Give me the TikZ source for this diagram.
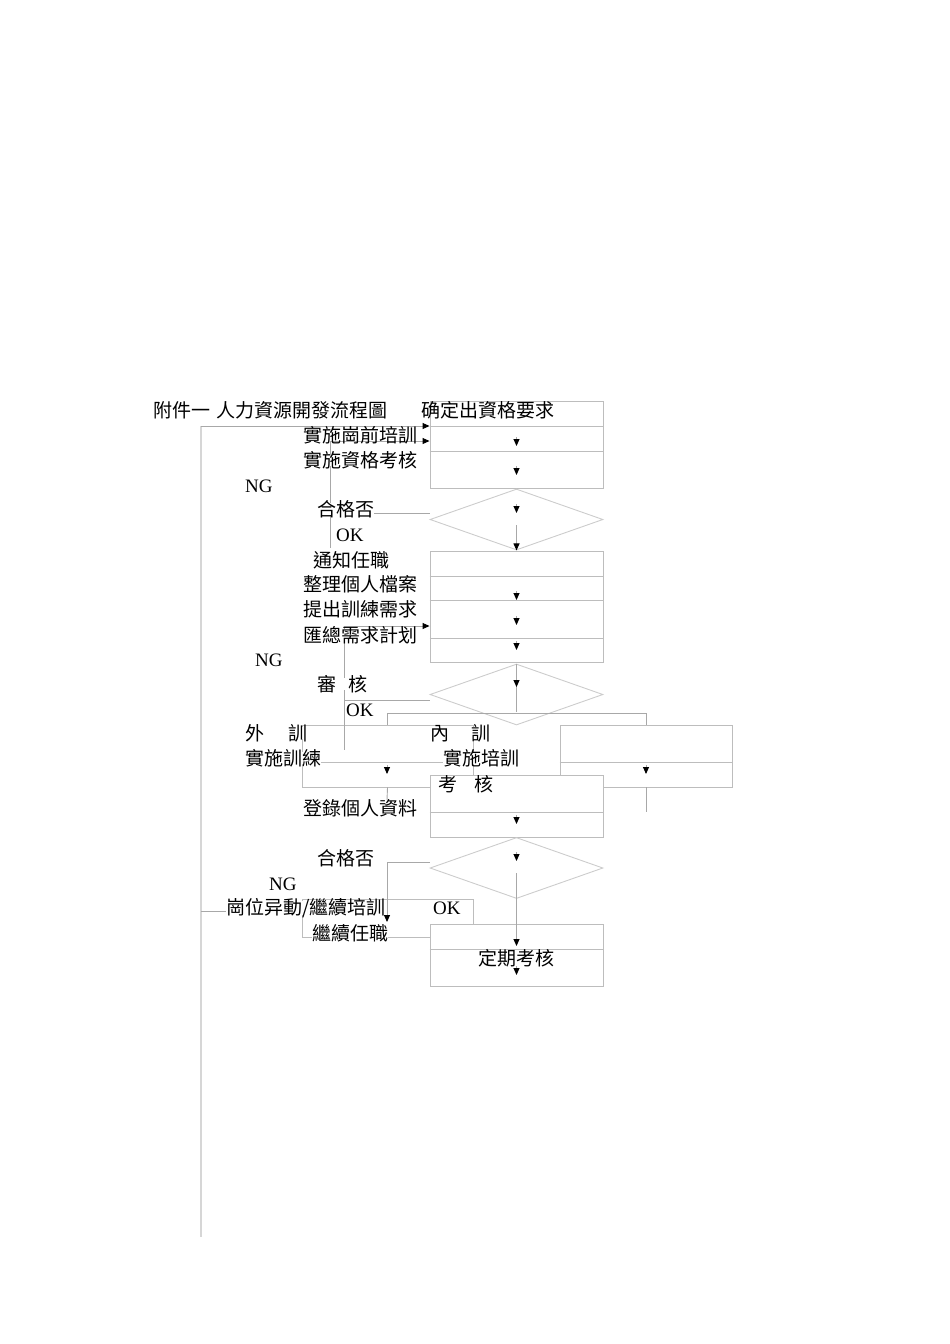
\documentclass[tikz,border=0pt]{standalone}
\usepackage{fontspec}
\setmainfont{Noto Sans CJK TC}
\newfontfamily\latinf{Liberation Serif}
\usetikzlibrary{arrows.meta,shapes.geometric}
\definecolor{boxc}{HTML}{BDBDBD}
\definecolor{dmc}{HTML}{CCCCCC}
\definecolor{conc}{HTML}{A8A8A8}
\definecolor{longc}{HTML}{D6D6D6}
\begin{document}
\begin{tikzpicture}[x=1pt,y=-1pt,
 box/.style={draw=boxc,line width=0.9pt,fill=white,inner sep=0pt,minimum width=173pt},
 obox/.style={draw=boxc,line width=0.9pt,inner sep=0pt},
 dbox/.style={diamond,draw=dmc,line width=0.9pt,inner sep=0pt,minimum width=173pt,minimum height=61pt},
 conn/.style={draw=conc,line width=0.9pt},
 tipped/.style={conn,-{Triangle[length=7pt,width=6pt,color=black]}},
 txt/.style={anchor=west,inner xsep=0pt,inner ysep=-2.5pt,fill=white,font=\fontsize{19pt}{22pt}\selectfont},
 lat/.style={anchor=west,inner sep=0pt,font=\fontsize{19pt}{22pt}\latinf}
]
\useasboundingbox (0,0) rectangle (950,1344);
% long left line
\coordinate (lt) at (201,426);
\coordinate (lb) at (201,1237);
\draw[draw=longc,line width=1.4pt] (lt) -- (lb);
% open boxes (behind)
\node[obox,minimum width=171pt,minimum height=62pt] (ext) at (387.5,756) {};
\node[obox,minimum width=172pt,minimum height=62pt] (rbox) at (646,756) {};
\node[obox,minimum width=171pt,minimum height=38pt] (bl) at (387.5,918) {};
\draw[draw=boxc,line width=0.9pt] (ext.west |- 0,762) -- (ext.east |- 0,762);
\draw[draw=boxc,line width=0.9pt] (rbox.west |- 0,762) -- (rbox.east |- 0,762);
% main column boxes
\node[box,minimum height=87pt] (b1) at (516.5,444.5) {};
\node[box,minimum height=111pt] (b2) at (516.5,606.5) {};
\node[box,minimum height=62pt] (b3) at (516.5,806) {};
\node[box,minimum height=62pt] (b4) at (516.5,955) {};
\node[dbox] (d1) at (516.5,519.5) {};
\node[dbox] (d2) at (516.5,694.5) {};
\node[dbox] (d3) at (516.5,868) {};
\foreach \yy in {426,451} \draw[draw=boxc,line width=0.9pt] (b1.west |- 0,\yy) -- (b1.east |- 0,\yy);
\foreach \yy in {576,600,638} \draw[draw=boxc,line width=0.9pt] (b2.west |- 0,\yy) -- (b2.east |- 0,\yy);
\draw[draw=boxc,line width=0.9pt] (b3.west |- 0,812) -- (b3.east |- 0,812);
\draw[draw=boxc,line width=0.9pt] (b4.west |- 0,949) -- (b4.east |- 0,949);
% connectors
\draw[tipped] (lt) -- (lt -| b1.west);
\coordinate (n1a) at (330,441);
\coordinate (n1b) at (330,548);
\coordinate (n1c) at (330,513);
\draw[tipped] (n1a) -- (n1a -| b1.west);
\draw[conn] (n1a) -- (n1b);
\draw[conn] (n1c) -- (n1c -| d1.west);
\coordinate (c2a) at (344,626);
\coordinate (c2b) at (344,750);
\coordinate (c2c) at (344,700);
\draw[tipped] (c2a) -- (c2a -| b2.west);
\draw[conn] (c2a) -- (c2b);
\draw[conn] (c2c) -- (c2c -| d2.west);
\coordinate (c3a) at (387,713);
\coordinate (c3b) at (646,713);
\draw[conn] (c3a |- ext.north) -- (c3a) -- (c3b) -- (c3b |- rbox.north);
\coordinate (c4) at (646,812);
\draw[conn] (rbox.south) -- (c4);
\coordinate (c5) at (387,800);
\draw[conn] (ext.south) -- (c5);
\coordinate (c6a) at (387,862);
\coordinate (c6b) at (387,922);
\draw[conn] (c6a) -- (c6a -| d3.west);
\draw[tipped] (c6a) -- (c6b);
\coordinate (c7) at (201,911);
\draw[conn] (c7) -- (c7 -| bl.west);
\coordinate (c8) at (516.5,712);
\draw[conn] (d2.north) -- (c8);
\coordinate (c9a) at (516.5,873);
\coordinate (c9b) at (516.5,946);
\draw[tipped] (c9a) -- (c9b);
\coordinate (c10) at (516.5,525);
\draw[tipped] (c10) -- (d1.south);
% small down arrows
\foreach \yy in {446,475,513,600,625,650,687,824,861,975}
  \draw[tipped] (516.5,\yy-9) -- (516.5,\yy);
\draw[tipped] (387,765) -- (387,774);
\draw[tipped] (646,765) -- (646,774);
% texts
\node[txt] (t0) at (153,410) {附件一\hspace{6pt}人力資源開發流程圖};
\node[txt] (t1) at (421,410) {确定出資格要求};
\node[txt] (t2) at (303,435) {實施崗前培訓};
\node[txt] (t3) at (303,460) {實施資格考核};
\node[lat] (t4) at (245,486) {NG};
\node[txt] (t5) at (317,509) {合格否};
\node[lat] (t6) at (336,535) {OK};
\node[txt] (t7) at (313,560) {通知任職};
\node[txt] (t8) at (303,584) {整理個人檔案};
\node[txt] (t9) at (303,609) {提出訓練需求};
\node[txt] (t10) at (303,635) {匯總需求計划};
\node[lat] (t11) at (255,660) {NG};
\node[txt] (t12) at (317,684) {審\hspace{12pt}核};
\node[lat] (t13) at (346,710) {OK};
\node[txt] (t14) at (245,733) {外\hspace{24pt}訓};
\node[txt] (t15) at (245,758) {實施訓練};
\node[txt] (t16) at (430,733) {內\hspace{22pt}訓};
\node[txt] (t17) at (443,758) {實施培訓};
\node[txt] (t18) at (438,784) {考\hspace{17pt}核};
\node[txt] (t19) at (303,808) {登錄個人資料};
\node[txt] (t20) at (317,858) {合格否};
\node[lat] (t21) at (269,884) {NG};
\node[txt] (t22) at (226,908) {崗位异動/繼續培訓};
\node[lat] (t23) at (433,908) {OK};
\node[txt] (t24) at (312,933) {繼續任職};
\node[txt] (t25) at (478,958) {定期考核};
\end{tikzpicture}
\end{document}
